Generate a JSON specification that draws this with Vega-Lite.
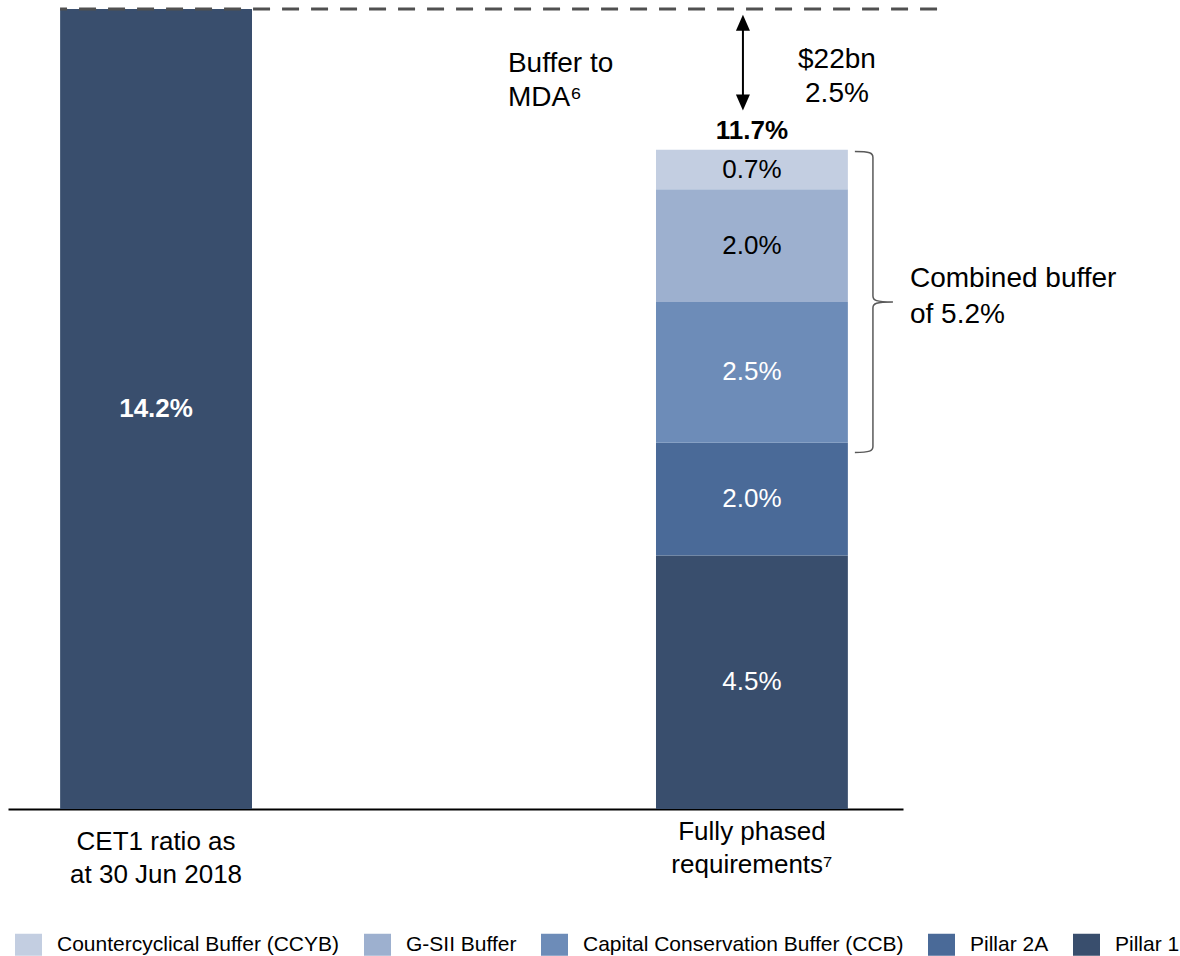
{
  "$schema": "https://vega.github.io/schema/vega-lite/v6.json",
  "width": 895,
  "height": 809,
  "autosize": {"type": "none"},
  "padding": {"left": 8, "top": 0, "right": 277, "bottom": 147},
  "background": "white",
  "config": {
    "view": {"stroke": null},
    "font": "Liberation Sans",
    "text": {"font": "Liberation Sans"}
  },
  "data": {
    "values": [
      {"cat": "CET1 ratio as at 30 Jun 2018", "series": "CET1 ratio", "value": 14.2, "layer": 1, "label": "14.2%"},
      {"cat": "Fully phased requirements⁷", "series": "Pillar 1", "value": 4.5, "layer": 1, "label": "4.5%"},
      {"cat": "Fully phased requirements⁷", "series": "Pillar 2A", "value": 2.0, "layer": 2, "label": "2.0%"},
      {"cat": "Fully phased requirements⁷", "series": "Capital Conservation Buffer (CCB)", "value": 2.5, "layer": 3, "label": "2.5%"},
      {"cat": "Fully phased requirements⁷", "series": "G-SII Buffer", "value": 2.0, "layer": 4, "label": "2.0%"},
      {"cat": "Fully phased requirements⁷", "series": "Countercyclical Buffer (CCYB)", "value": 0.7, "layer": 5, "label": "0.7%"}
    ]
  },
  "layer": [
    {
      "mark": {"type": "bar"},
      "encoding": {
        "x": {
          "field": "cat", "type": "nominal", "sort": null,
          "scale": {"paddingInner": 0.678, "paddingOuter": 0.09, "align": 0.486},
          "axis": {
            "title": null, "ticks": false, "domainColor": "black", "domainWidth": 2,
            "labelFontSize": 26, "labelFont": "Liberation Sans", "labelColor": "black",
            "labelAngle": 0, "labelLineHeight": 33, "labelLimit": 0, "labelOverlap": false,
            "labelBaseline": "top",
            "labelPadding": {"condition": {"test": "datum.value == 'CET1 ratio as at 30 Jun 2018'", "value": 19}, "value": 9},
            "labelExpr": "datum.value == 'CET1 ratio as at 30 Jun 2018' ? ['CET1 ratio as', 'at 30 Jun 2018'] : ['Fully phased', 'requirements⁷']"
          }
        },
        "y": {
          "field": "value", "type": "quantitative", "stack": "zero",
          "scale": {"domain": [0, 14.36], "nice": false}, "axis": null
        },
        "color": {
          "field": "series", "type": "nominal",
          "scale": {
            "domain": ["Countercyclical Buffer (CCYB)", "G-SII Buffer", "Capital Conservation Buffer (CCB)", "Pillar 2A", "Pillar 1", "CET1 ratio"],
            "range": ["#c3cee1", "#9db0cf", "#6d8cb8", "#4a6a98", "#394e6d", "#394e6d"]
          },
          "legend": {
            "values": ["Countercyclical Buffer (CCYB)", "G-SII Buffer", "Capital Conservation Buffer (CCB)", "Pillar 2A", "Pillar 1"],
            "orient": "none", "legendX": 7, "legendY": 931, "direction": "horizontal",
            "title": null, "symbolType": "M-1,-0.8148H1V0.8148H-1Z", "symbolSize": 729,
            "symbolStrokeWidth": 0, "symbolOpacity": 1, "labelFontSize": 21,
            "labelFont": "Liberation Sans", "labelColor": "black", "labelOffset": 15,
            "columnPadding": 24, "labelLimit": 0, "padding": 0, "rowPadding": 0
          }
        },
        "order": {"field": "layer", "type": "quantitative"}
      }
    },
    {
      "transform": [{"filter": "datum.series != 'CET1 ratio'"}],
      "mark": {"type": "text", "fontSize": 26, "baseline": "middle", "align": "center"},
      "encoding": {
        "x": {"field": "cat", "type": "nominal", "sort": null},
        "y": {"field": "value", "type": "quantitative", "stack": "zero", "bandPosition": 0.5},
        "detail": {"field": "series"},
        "order": {"field": "layer", "type": "quantitative"},
        "text": {"field": "label"},
        "color": {"condition": {"test": "datum.layer >= 4", "value": "black"}, "value": "white"}
      }
    },
    {
      "transform": [{"filter": "datum.series == 'CET1 ratio'"}],
      "mark": {"type": "text", "fontSize": 26, "fontWeight": "bold", "baseline": "middle", "align": "center", "color": "white"},
      "encoding": {
        "x": {"field": "cat", "type": "nominal", "sort": null},
        "y": {"field": "value", "type": "quantitative", "stack": "zero", "bandPosition": 0.5},
        "text": {"field": "label"}
      }
    },
    {
      "data": {"values": [{}]},
      "mark": {"type": "rule", "color": "#505050", "strokeWidth": 3, "strokeDash": [17, 12], "strokeDashOffset": 10, "xOffset": -96, "x2Offset": 188},
      "encoding": {
        "x": {"datum": "CET1 ratio as at 30 Jun 2018", "type": "nominal"},
        "x2": {"datum": "Fully phased requirements⁷"},
        "y": {"datum": 14.2, "type": "quantitative"}
      }
    },
    {
      "data": {"values": [{}]},
      "mark": {"type": "rule", "color": "black", "strokeWidth": 2, "xOffset": -9},
      "encoding": {
        "x": {"datum": "Fully phased requirements⁷", "type": "nominal"},
        "y": {"datum": 14.0, "type": "quantitative"},
        "y2": {"datum": 12.5}
      }
    },
    {
      "data": {"values": [{}]},
      "mark": {"type": "point", "shape": "M0,0L0.875,2L-0.875,2Z", "size": 256, "filled": true, "color": "black", "opacity": 1, "xOffset": -9},
      "encoding": {
        "x": {"datum": "Fully phased requirements⁷", "type": "nominal"},
        "y": {"datum": 14.1, "type": "quantitative"}
      }
    },
    {
      "data": {"values": [{}]},
      "mark": {"type": "point", "shape": "M0,0L0.875,-2L-0.875,-2Z", "size": 256, "filled": true, "color": "black", "opacity": 1, "xOffset": -9},
      "encoding": {
        "x": {"datum": "Fully phased requirements⁷", "type": "nominal"},
        "y": {"datum": 12.4, "type": "quantitative"}
      }
    },
    {
      "data": {"values": [{}]},
      "mark": {"type": "point", "shape": "M-0.12,-1C-0.02,-1,0,-0.99,0,-0.96L0,-0.04C0,-0.01,0.02,0,0.133,0M0.133,0C0.02,0,0,0.01,0,0.04L0,0.96C0,0.99,-0.02,1,-0.12,1", "size": 90601, "filled": false, "color": "#595959", "strokeWidth": 1.5, "opacity": 1, "xOffset": 121},
      "encoding": {
        "x": {"datum": "Fully phased requirements⁷", "type": "nominal"},
        "y": {"datum": 9.0, "type": "quantitative"}
      }
    },
    {
      "data": {"values": [{}]},
      "mark": {"type": "text", "align": "left", "baseline": "alphabetic", "fontSize": 28, "lineHeight": 34, "dx": -244, "color": "black"},
      "encoding": {
        "x": {"datum": "Fully phased requirements⁷", "type": "nominal"},
        "y": {"datum": 13.08, "type": "quantitative"},
        "text": {"value": ["Buffer to", "MDA⁶"]}
      }
    },
    {
      "data": {"values": [{}]},
      "mark": {"type": "text", "align": "center", "baseline": "alphabetic", "fontSize": 28, "lineHeight": 34, "dx": 85, "color": "black"},
      "encoding": {
        "x": {"datum": "Fully phased requirements⁷", "type": "nominal"},
        "y": {"datum": 13.16, "type": "quantitative"},
        "text": {"value": ["$22bn", "2.5%"]}
      }
    },
    {
      "data": {"values": [{}]},
      "mark": {"type": "text", "align": "center", "baseline": "alphabetic", "fontSize": 26, "fontWeight": "bold", "dy": -11, "color": "black"},
      "encoding": {
        "x": {"datum": "Fully phased requirements⁷", "type": "nominal"},
        "y": {"datum": 11.7, "type": "quantitative"},
        "text": {"value": "11.7%"}
      }
    },
    {
      "data": {"values": [{}]},
      "mark": {"type": "text", "align": "left", "baseline": "alphabetic", "fontSize": 28, "lineHeight": 36, "dx": 158, "dy": -15, "color": "black"},
      "encoding": {
        "x": {"datum": "Fully phased requirements⁷", "type": "nominal"},
        "y": {"datum": 9.0, "type": "quantitative"},
        "text": {"value": ["Combined buffer", "of 5.2%"]}
      }
    }
  ]
}
